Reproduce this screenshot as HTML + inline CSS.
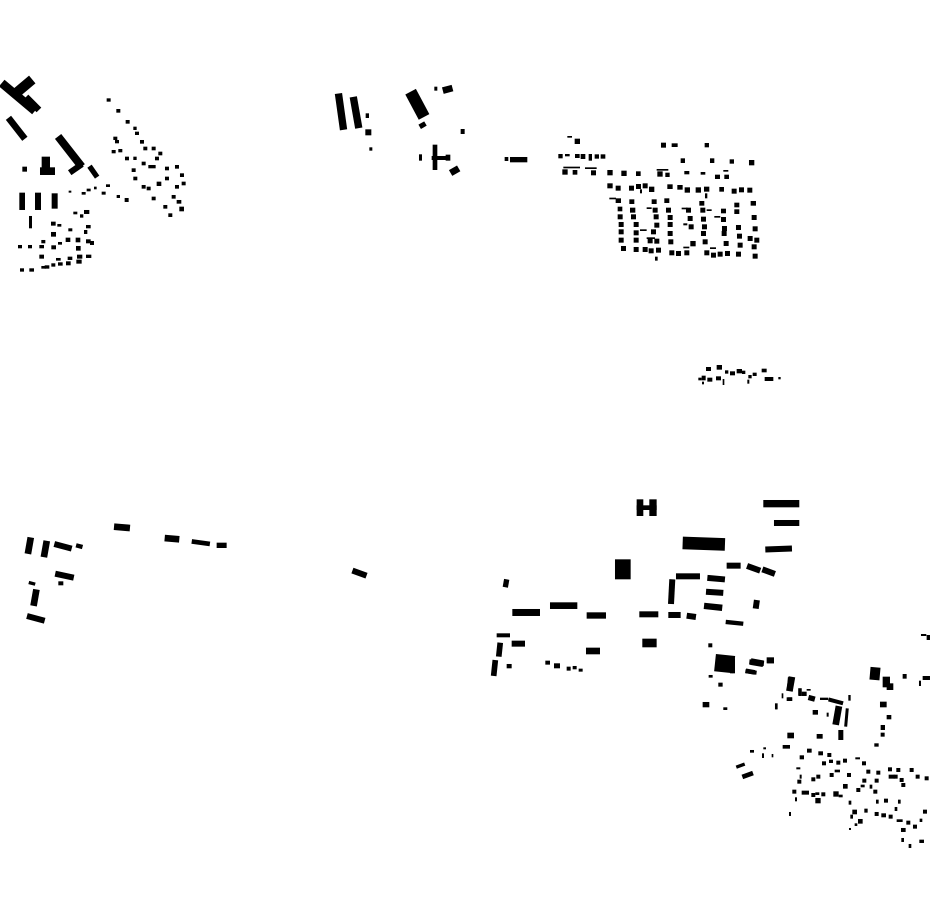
<!DOCTYPE html>
<html><head><meta charset="utf-8"><style>html,body{margin:0;padding:0;background:#fff}svg{display:block}</style></head>
<body>
<svg width="930" height="924" viewBox="0 0 930 924" xmlns="http://www.w3.org/2000/svg" fill="#000">
<!-- top-left cluster -->
<g transform="translate(0,60) scale(0.3333)">
<rect x="-10" y="98" width="130" height="26" transform="rotate(40 55 111)"/>
<rect x="35" y="66" width="70" height="30" transform="rotate(-40 70 81)"/>
<rect x="70" y="120" width="55" height="20" transform="rotate(45 97 130)"/>
<rect x="10" y="195" width="80" height="20" transform="rotate(52 50 205)"/>
<rect x="152" y="263" width="115" height="24" transform="rotate(52 210 275)"/>
<rect x="205" y="316" width="45" height="18" transform="rotate(-35 228 325)"/>
<rect x="260" y="327" width="40" height="16" transform="rotate(55 280 335)"/>
<rect x="125" y="290" width="25" height="35"/><rect x="120" y="322" width="45" height="23"/>
<rect x="67" y="320" width="14" height="15"/>
<rect x="58" y="398" width="17" height="52"/><rect x="105" y="398" width="18" height="52"/><rect x="155" y="400" width="18" height="46"/>
<rect x="87" y="468" width="9" height="37"/>
<g>
<rect x="320" y="115" width="12" height="10"/><rect x="349" y="147" width="12" height="11"/><rect x="377" y="180" width="12" height="11"/><rect x="400" y="200" width="10" height="10"/><rect x="405" y="215" width="12" height="10"/><rect x="340" y="230" width="12" height="10"/><rect x="345" y="240" width="12" height="10"/><rect x="420" y="240" width="12" height="11"/><rect x="430" y="260" width="12" height="11"/><rect x="455" y="260" width="12" height="11"/><rect x="475" y="275" width="12" height="11"/><rect x="335" y="270" width="12" height="10"/><rect x="355" y="267" width="12" height="10"/><rect x="375" y="290" width="12" height="11"/><rect x="400" y="290" width="10" height="10"/><rect x="425" y="305" width="12" height="11"/><rect x="445" y="315" width="22" height="10"/><rect x="465" y="290" width="12" height="11"/><rect x="495" y="320" width="12" height="11"/><rect x="525" y="315" width="12" height="11"/><rect x="395" y="325" width="12" height="11"/><rect x="400" y="350" width="12" height="11"/><rect x="425" y="375" width="12" height="11"/><rect x="440" y="380" width="12" height="11"/><rect x="470" y="365" width="14" height="13"/><rect x="495" y="350" width="12" height="11"/><rect x="540" y="340" width="12" height="11"/><rect x="525" y="375" width="12" height="11"/><rect x="545" y="365" width="12" height="11"/><rect x="455" y="410" width="12" height="11"/><rect x="490" y="435" width="12" height="11"/><rect x="505" y="460" width="12" height="11"/><rect x="530" y="420" width="14" height="11"/><rect x="538" y="440" width="14" height="14"/><rect x="515" y="405" width="12" height="11"/>
<rect x="245" y="396" width="12" height="8"/><rect x="260" y="386" width="12" height="8"/><rect x="282" y="380" width="8" height="8"/><rect x="318" y="373" width="12" height="8"/><rect x="305" y="395" width="12" height="9"/><rect x="350" y="405" width="10" height="9"/><rect x="374" y="414" width="12" height="12"/><rect x="206" y="392" width="8" height="6"/>
<rect x="220" y="455" width="12" height="8"/><rect x="252" y="450" width="16" height="12"/><rect x="240" y="463" width="10" height="10"/><rect x="153" y="485" width="14" height="12"/><rect x="172" y="492" width="12" height="8"/><rect x="205" y="505" width="12" height="9"/><rect x="258" y="495" width="14" height="10"/><rect x="252" y="510" width="10" height="12"/><rect x="153" y="516" width="15" height="14"/><rect x="197" y="533" width="14" height="13"/><rect x="227" y="533" width="14" height="14"/><rect x="258" y="538" width="14" height="12"/><rect x="270" y="543" width="12" height="12"/><rect x="124" y="540" width="12" height="10"/><rect x="54" y="555" width="12" height="10"/><rect x="84" y="555" width="12" height="10"/><rect x="118" y="555" width="14" height="10"/><rect x="154" y="556" width="14" height="12"/><rect x="174" y="546" width="12" height="8"/><rect x="228" y="558" width="14" height="14"/><rect x="118" y="584" width="14" height="12"/><rect x="168" y="594" width="14" height="8"/><rect x="203" y="590" width="14" height="10"/><rect x="231" y="584" width="16" height="12"/><rect x="258" y="584" width="16" height="10"/><rect x="134" y="616" width="14" height="10"/><rect x="154" y="610" width="12" height="10"/><rect x="174" y="607" width="14" height="10"/><rect x="198" y="604" width="14" height="12"/><rect x="229" y="599" width="16" height="12"/><rect x="60" y="625" width="12" height="10"/><rect x="88" y="625" width="14" height="10"/><rect x="124" y="618" width="14" height="8"/>
</g></g>

<!-- top-middle -->
<g transform="translate(330,80) scale(0.3333)">
<rect x="22" y="40" width="22" height="110" transform="rotate(-8 33 95)"/>
<rect x="67" y="50" width="22" height="95" transform="rotate(-10 78 97)"/>
<rect x="107" y="100" width="10" height="14"/><rect x="106" y="148" width="18" height="18"/><rect x="118" y="202" width="9" height="10"/>
<rect x="244" y="30" width="36" height="86" transform="rotate(-28 262 73)"/>
<rect x="268" y="128" width="20" height="15" transform="rotate(-30 278 136)"/>
<rect x="313" y="20" width="9" height="12"/><rect x="338" y="18" width="30" height="20" transform="rotate(-15 353 28)"/>
<rect x="392" y="147" width="12" height="15"/><rect x="267" y="223" width="9" height="19"/>
<rect x="308" y="194" width="14" height="76"/><rect x="305" y="228" width="50" height="12"/><rect x="347" y="224" width="14" height="18"/>
<rect x="360" y="262" width="28" height="20" transform="rotate(-30 374 272)"/>
<rect x="524" y="231" width="11" height="12"/><rect x="540" y="231" width="52" height="16"/>
</g>

<!-- top-right grid -->
<g transform="translate(550,130) scale(0.3333)">
<g id="tr">
<rect x="74" y="26" width="16" height="16"/><rect x="52" y="18" width="14" height="5"/><rect x="333" y="38" width="15" height="15"/><rect x="365" y="40" width="18" height="11"/><rect x="464" y="39" width="13" height="13"/>
<rect x="25" y="72" width="13" height="13"/><rect x="45" y="72" width="14" height="7"/><rect x="75" y="72" width="14" height="12"/><rect x="92" y="72" width="14" height="15"/><rect x="116" y="72" width="10" height="20"/><rect x="134" y="73" width="13" height="13"/><rect x="152" y="73" width="14" height="13"/>
<rect x="392" y="85" width="13" height="14"/><rect x="480" y="85" width="13" height="14"/><rect x="539" y="88" width="13" height="13"/><rect x="597" y="90" width="16" height="16"/>
<rect x="37" y="118" width="16" height="16"/><rect x="68" y="120" width="14" height="14"/><rect x="123" y="121" width="15" height="15"/><rect x="172" y="120" width="16" height="16"/><rect x="214" y="122" width="16" height="16"/><rect x="258" y="124" width="14" height="14"/><rect x="322" y="124" width="16" height="16"/><rect x="346" y="128" width="13" height="13"/><rect x="403" y="123" width="15" height="10"/><rect x="452" y="126" width="14" height="8"/><rect x="495" y="134" width="15" height="13"/><rect x="523" y="134" width="14" height="13"/>
<rect x="40" y="110" width="50" height="5"/><rect x="105" y="112" width="35" height="5"/><rect x="320" y="117" width="35" height="5"/>
<rect x="172" y="160" width="16" height="15"/><rect x="197" y="167" width="15" height="15"/><rect x="237" y="167" width="15" height="15"/><rect x="258" y="162" width="15" height="15"/><rect x="278" y="160" width="15" height="15"/><rect x="297" y="170" width="16" height="16"/><rect x="352" y="163" width="16" height="14"/><rect x="382" y="165" width="16" height="14"/><rect x="404" y="172" width="16" height="16"/><rect x="437" y="172" width="16" height="16"/><rect x="462" y="170" width="16" height="15"/><rect x="508" y="171" width="14" height="14"/><rect x="545" y="176" width="15" height="15"/><rect x="567" y="172" width="15" height="15"/><rect x="592" y="173" width="15" height="15"/>
<rect x="197" y="205" width="16" height="14"/><rect x="238" y="208" width="15" height="14"/><rect x="305" y="208" width="15" height="14"/><rect x="343" y="205" width="15" height="14"/><rect x="448" y="213" width="15" height="14"/><rect x="553" y="218" width="15" height="14"/><rect x="602" y="213" width="16" height="14"/>
<rect x="203" y="230" width="14" height="14"/><rect x="240" y="233" width="16" height="15"/><rect x="308" y="233" width="15" height="15"/><rect x="348" y="233" width="15" height="15"/><rect x="408" y="233" width="15" height="15"/><rect x="451" y="233" width="15" height="15"/><rect x="513" y="236" width="15" height="14"/><rect x="553" y="238" width="15" height="14"/>
<rect x="203" y="253" width="15" height="15"/><rect x="243" y="253" width="15" height="15"/><rect x="311" y="253" width="15" height="15"/><rect x="353" y="255" width="15" height="15"/><rect x="413" y="258" width="15" height="15"/><rect x="453" y="260" width="15" height="15"/><rect x="513" y="261" width="15" height="15"/><rect x="605" y="255" width="15" height="15"/>
<rect x="206" y="276" width="15" height="15"/><rect x="251" y="276" width="15" height="15"/><rect x="313" y="278" width="15" height="15"/><rect x="353" y="276" width="15" height="15"/><rect x="416" y="283" width="15" height="15"/><rect x="456" y="283" width="15" height="15"/><rect x="516" y="288" width="15" height="15"/><rect x="558" y="285" width="15" height="15"/><rect x="608" y="289" width="15" height="15"/>
<rect x="206" y="298" width="15" height="15"/><rect x="251" y="301" width="15" height="15"/><rect x="303" y="298" width="15" height="15"/><rect x="353" y="303" width="15" height="15"/><rect x="453" y="303" width="15" height="15"/><rect x="515" y="303" width="15" height="15"/><rect x="561" y="311" width="15" height="15"/><rect x="593" y="318" width="15" height="15"/><rect x="613" y="323" width="15" height="15"/>
<rect x="206" y="323" width="15" height="15"/><rect x="251" y="323" width="15" height="15"/><rect x="293" y="325" width="15" height="15"/><rect x="313" y="326" width="15" height="15"/><rect x="355" y="328" width="15" height="15"/><rect x="421" y="333" width="16" height="16"/><rect x="458" y="328" width="15" height="15"/><rect x="521" y="333" width="15" height="15"/><rect x="563" y="338" width="15" height="15"/><rect x="605" y="343" width="15" height="15"/>
<rect x="213" y="348" width="15" height="15"/><rect x="251" y="351" width="15" height="15"/><rect x="278" y="351" width="15" height="15"/><rect x="296" y="355" width="15" height="15"/><rect x="318" y="353" width="15" height="15"/><rect x="358" y="361" width="15" height="15"/><rect x="378" y="363" width="15" height="15"/><rect x="403" y="361" width="15" height="15"/><rect x="463" y="361" width="15" height="15"/><rect x="483" y="368" width="15" height="15"/><rect x="503" y="365" width="15" height="15"/><rect x="525" y="363" width="15" height="15"/><rect x="558" y="365" width="15" height="15"/><rect x="608" y="371" width="15" height="15"/>
<rect x="178" y="203" width="20" height="5"/><rect x="290" y="232" width="15" height="5"/><rect x="270" y="298" width="20" height="5"/><rect x="395" y="233" width="18" height="5"/><rect x="493" y="258" width="18" height="5"/><rect x="470" y="238" width="15" height="5"/><rect x="400" y="280" width="12" height="6"/><rect x="290" y="322" width="25" height="5"/><rect x="480" y="352" width="18" height="5"/><rect x="400" y="350" width="18" height="5"/><rect x="315" y="380" width="8" height="12"/><rect x="465" y="190" width="7" height="15"/><rect x="270" y="178" width="6" height="12"/><rect x="520" y="120" width="15" height="5"/>
</g></g>

<!-- mid-right cluster -->
<g transform="translate(690,355) scale(0.3333)">
<rect x="48" y="36" width="15" height="12"/><rect x="80" y="30" width="16" height="14"/><rect x="120" y="49" width="15" height="12"/><rect x="140" y="42" width="16" height="13"/><rect x="156" y="47" width="10" height="10"/><rect x="215" y="41" width="15" height="11"/><rect x="105" y="46" width="10" height="10"/><rect x="35" y="62" width="12" height="14"/><rect x="52" y="68" width="15" height="12"/><rect x="78" y="64" width="15" height="12"/><rect x="98" y="72" width="5" height="18"/><rect x="25" y="68" width="10" height="8"/><rect x="175" y="60" width="10" height="10"/><rect x="188" y="53" width="12" height="10"/><rect x="172" y="74" width="6" height="12"/><rect x="224" y="66" width="26" height="12"/><rect x="265" y="66" width="7" height="7"/><rect x="36" y="80" width="6" height="8"/>
</g>

<!-- bottom-left -->
<g transform="translate(0,510) scale(0.3333)">
<rect x="78" y="82" width="20" height="50" transform="rotate(10 88 107)"/>
<rect x="126" y="92" width="20" height="50" transform="rotate(10 136 117)"/>
<rect x="162" y="100" width="54" height="18" transform="rotate(15 189 109)"/>
<rect x="228" y="102" width="20" height="13" transform="rotate(15 238 108)"/>
<rect x="342" y="42" width="48" height="20" transform="rotate(5 366 52)"/>
<rect x="494" y="76" width="44" height="20" transform="rotate(5 516 86)"/>
<rect x="575" y="91" width="55" height="14" transform="rotate(8 602 98)"/>
<rect x="650" y="98" width="30" height="16"/>
<rect x="165" y="188" width="57" height="18" transform="rotate(12 193 197)"/>
<rect x="175" y="214" width="15" height="12"/><rect x="86" y="215" width="20" height="10" transform="rotate(15 96 220)"/>
<rect x="95" y="238" width="20" height="50" transform="rotate(10 105 263)"/>
<rect x="80" y="316" width="55" height="18" transform="rotate(15 107 325)"/>
</g>
<rect x="352" y="570" width="15" height="6" transform="rotate(20 359 573)"/>

<!-- bottom-middle -->
<g transform="translate(480,490) scale(0.3333)">
<rect x="470" y="28" width="20" height="50"/><rect x="508" y="28" width="22" height="50"/><rect x="470" y="46" width="60" height="14"/>
<rect x="850" y="30" width="108" height="22"/><rect x="882" y="90" width="76" height="18"/><rect x="856" y="168" width="80" height="18" transform="rotate(-2 896 177)"/>
<rect x="608" y="142" width="127" height="38" transform="rotate(2 671 161)"/>
<rect x="405" y="208" width="47" height="60"/>
<rect x="740" y="218" width="42" height="18"/>
<rect x="800" y="226" width="42" height="18" transform="rotate(20 821 235)"/>
<rect x="846" y="236" width="40" height="18" transform="rotate(20 866 245)"/>
<rect x="588" y="250" width="72" height="18"/>
<rect x="566" y="268" width="18" height="74" transform="rotate(3 575 305)"/>
<rect x="682" y="257" width="53" height="18" transform="rotate(5 708 266)"/>
<rect x="678" y="298" width="52" height="18" transform="rotate(4 704 307)"/>
<rect x="672" y="341" width="55" height="19" transform="rotate(6 699 350)"/>
<rect x="820" y="330" width="18" height="26" transform="rotate(8 829 343)"/>
<rect x="737" y="392" width="53" height="13" transform="rotate(6 763 399)"/>
<rect x="70" y="268" width="16" height="24" transform="rotate(10 78 280)"/>
<rect x="97" y="357" width="83" height="21"/><rect x="210" y="337" width="82" height="20"/><rect x="320" y="367" width="58" height="19"/>
<rect x="478" y="364" width="57" height="18"/><rect x="565" y="366" width="37" height="18"/><rect x="620" y="370" width="28" height="18" transform="rotate(8 634 379)"/>
<rect x="50" y="430" width="40" height="12"/><rect x="95" y="452" width="40" height="18"/>
<rect x="50" y="458" width="17" height="42" transform="rotate(6 58 479)"/>
<rect x="35" y="510" width="17" height="48" transform="rotate(6 43 534)"/>
<rect x="80" y="522" width="15" height="13"/><rect x="318" y="473" width="42" height="20"/><rect x="487" y="446" width="43" height="26"/>
<rect x="196" y="512" width="14" height="12"/><rect x="222" y="520" width="18" height="15"/><rect x="260" y="530" width="12" height="12"/><rect x="278" y="528" width="12" height="10"/><rect x="296" y="536" width="12" height="9"/>
<rect x="685" y="460" width="12" height="12"/>
<rect x="705" y="495" width="58" height="52" transform="rotate(6 734 521)"/>
<rect x="808" y="510" width="44" height="16" transform="rotate(6 830 518)"/>
<rect x="862" y="503" width="20" height="17"/><rect x="796" y="540" width="34" height="12" transform="rotate(8 813 546)"/>
<rect x="686" y="555" width="12" height="8"/><rect x="715" y="578" width="13" height="12"/><rect x="668" y="636" width="20" height="16"/><rect x="730" y="652" width="12" height="8"/>
<rect x="922" y="562" width="18" height="40" transform="rotate(5 931 582)"/><rect x="923" y="622" width="14" height="11"/><rect x="955" y="595" width="10" height="20"/><rect x="885" y="640" width="8" height="18"/>
</g>

<!-- bottom-right -->
<g transform="translate(730,630) scale(0.3333)">
<rect x="0" y="85" width="15" height="45"/>
<rect x="62" y="88" width="38" height="20" transform="rotate(10 81 98)"/>
<rect x="110" y="82" width="22" height="18"/>
<rect x="47" y="118" width="28" height="14" transform="rotate(10 61 125)"/>
<rect x="573" y="12" width="16" height="6"/><rect x="590" y="15" width="10" height="15"/>
<rect x="420" y="112" width="30" height="38" transform="rotate(5 435 131)"/>
<rect x="458" y="140" width="22" height="32"/><rect x="470" y="160" width="20" height="20"/>
<rect x="518" y="132" width="12" height="14"/><rect x="578" y="138" width="22" height="12"/><rect x="567" y="152" width="6" height="16"/>
<rect x="172" y="140" width="20" height="44" transform="rotate(10 182 162)"/>
<rect x="205" y="175" width="10" height="23"/><rect x="170" y="202" width="16" height="11"/><rect x="155" y="190" width="5" height="15"/><rect x="136" y="222" width="6" height="16"/>
<rect x="230" y="177" width="12" height="5"/><rect x="215" y="185" width="15" height="13"/><rect x="235" y="197" width="20" height="16" transform="rotate(15 245 205)"/>
<rect x="270" y="203" width="25" height="7"/>
<rect x="295" y="208" width="45" height="12" transform="rotate(15 317 214)"/>
<rect x="355" y="195" width="7" height="17"/>
<rect x="312" y="228" width="20" height="57" transform="rotate(10 322 256)"/>
<rect x="345" y="235" width="9" height="55" transform="rotate(5 350 262)"/>
<rect x="325" y="300" width="15" height="30"/>
<rect x="248" y="240" width="16" height="14"/><rect x="290" y="248" width="6" height="12"/><rect x="260" y="312" width="18" height="14"/>
<rect x="450" y="215" width="20" height="17"/><rect x="470" y="255" width="14" height="13"/><rect x="452" y="285" width="13" height="15"/><rect x="452" y="308" width="12" height="12"/><rect x="433" y="340" width="13" height="10"/>
<rect x="172" y="308" width="20" height="17"/><rect x="158" y="345" width="22" height="11"/><rect x="60" y="360" width="12" height="8"/><rect x="100" y="352" width="8" height="6"/><rect x="96" y="370" width="6" height="14"/><rect x="125" y="372" width="5" height="10"/>
<rect x="18" y="402" width="27" height="10" transform="rotate(-20 31 407)"/>
<rect x="36" y="428" width="34" height="14" transform="rotate(-20 53 435)"/>
<g>
<rect x="209" y="376" width="13" height="12"/><rect x="231" y="356" width="14" height="12"/><rect x="265" y="364" width="14" height="12"/><rect x="292" y="369" width="12" height="12"/><rect x="276" y="394" width="12" height="12"/><rect x="297" y="389" width="12" height="10"/><rect x="319" y="392" width="12" height="12"/><rect x="339" y="386" width="12" height="12"/><rect x="376" y="382" width="14" height="6"/><rect x="396" y="394" width="12" height="12"/><rect x="409" y="419" width="12" height="12"/><rect x="439" y="422" width="12" height="12"/><rect x="474" y="412" width="12" height="12"/><rect x="499" y="414" width="12" height="12"/><rect x="539" y="414" width="12" height="12"/><rect x="557" y="434" width="12" height="12"/><rect x="584" y="439" width="12" height="12"/><rect x="199" y="412" width="12" height="6"/><rect x="209" y="434" width="6" height="12"/><rect x="202" y="449" width="12" height="12"/><rect x="259" y="434" width="12" height="12"/><rect x="244" y="442" width="12" height="12"/><rect x="299" y="429" width="12" height="12"/><rect x="314" y="419" width="16" height="8"/><rect x="351" y="429" width="12" height="12"/><rect x="397" y="446" width="12" height="12"/><rect x="434" y="446" width="12" height="12"/><rect x="476" y="434" width="18" height="12"/><rect x="491" y="434" width="12" height="12"/><rect x="509" y="444" width="12" height="12"/><rect x="514" y="459" width="12" height="12"/><rect x="339" y="462" width="14" height="14"/><rect x="379" y="474" width="12" height="12"/><rect x="392" y="464" width="12" height="8"/><rect x="419" y="464" width="8" height="12"/><rect x="430" y="479" width="12" height="12"/><rect x="187" y="479" width="12" height="12"/><rect x="215" y="482" width="22" height="12"/><rect x="244" y="489" width="12" height="12"/><rect x="256" y="487" width="12" height="8"/><rect x="274" y="487" width="12" height="12"/><rect x="310" y="484" width="16" height="16"/><rect x="326" y="494" width="12" height="8"/><rect x="195" y="502" width="6" height="12"/><rect x="256" y="504" width="16" height="16"/><rect x="356" y="512" width="8" height="12"/><rect x="438" y="509" width="8" height="12"/><rect x="462" y="506" width="12" height="12"/><rect x="504" y="509" width="8" height="12"/><rect x="494" y="531" width="8" height="12"/><rect x="367" y="539" width="14" height="14"/><rect x="403" y="536" width="10" height="12"/><rect x="434" y="546" width="12" height="12"/><rect x="454" y="550" width="14" height="12"/><rect x="476" y="554" width="12" height="12"/><rect x="500" y="568" width="18" height="8"/><rect x="529" y="572" width="12" height="12"/><rect x="569" y="566" width="8" height="10"/><rect x="579" y="539" width="12" height="12"/><rect x="361" y="554" width="8" height="12"/><rect x="384" y="567" width="14" height="14"/><rect x="374" y="580" width="8" height="8"/><rect x="357" y="594" width="6" height="6"/><rect x="177" y="546" width="6" height="12"/><rect x="513" y="594" width="14" height="12"/><rect x="549" y="584" width="12" height="12"/><rect x="514" y="624" width="8" height="12"/><rect x="536" y="642" width="8" height="12"/><rect x="568" y="629" width="14" height="10"/>
</g></g>
</svg>
</body></html>
